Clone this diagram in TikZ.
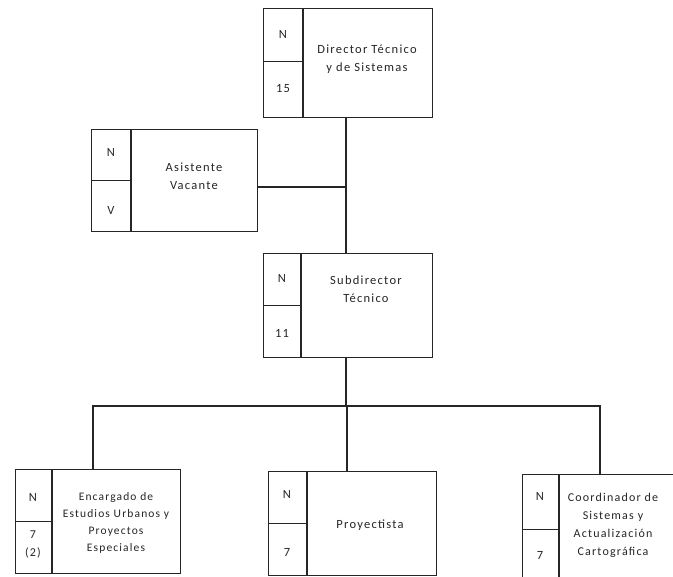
\documentclass[tikz,border=0pt]{standalone}
\usepackage{fontspec}
\setmainfont{Carlito}[LetterSpace=10]
\begin{document}
\begin{tikzpicture}[x=1pt,y=-1pt,
  box/.style={draw=black!85, line width=1.3pt, rectangle, inner sep=0pt, anchor=north west},
  ln/.style={draw=black!85, line width=1.3pt},
  conn/.style={draw=black!85, line width=1.3pt},
  lbl/.style={font=\fontsize{12.5}{18}\selectfont, text=black!85, inner sep=0pt, align=center}]
\clip (0,0) rectangle (673,577);
\fill[white] (0,0) rectangle (673,577);
% Director
\node[box, minimum width=169pt, minimum height=109pt] (dir) at (263,8) {};
\draw[ln] ([xshift=40pt]dir.north west) -- ([xshift=40pt]dir.south west);
\draw[ln] ([yshift=1.5pt]dir.west) -- ([xshift=40pt,yshift=1.5pt]dir.west);
\node[lbl] (dirN) at (283,34) {N};
\node[lbl] (dirG) at (283,89) {15};
\node[lbl] (dirT) at (367,59) {Director Técnico\\y de Sistemas};
% Asistente
\node[box, minimum width=166pt, minimum height=102pt] (asi) at (91,129) {};
\draw[ln] ([xshift=40pt]asi.north west) -- ([xshift=40pt]asi.south west);
\draw[ln] (asi.west) -- ([xshift=40pt]asi.west);
\node[lbl] (asiN) at (111,152) {N};
\node[lbl] (asiG) at (111,210) {V};
\node[lbl] (asiT) at (194,176) {Asistente\\Vacante};
% Subdirector
\node[box, minimum width=169pt, minimum height=104pt] (sub) at (263,253) {};
\draw[ln] ([xshift=38pt]sub.north west) -- ([xshift=38pt]sub.south west);
\draw[ln] (sub.west) -- ([xshift=38pt]sub.west);
\node[lbl] (subN) at (282,278) {N};
\node[lbl] (subG) at (282,333) {11};
\node[lbl] (subT) at (366,289) {Subdirector\\Técnico};
% Encargado
\node[box, minimum width=165pt, minimum height=104pt] (enc) at (15,469) {};
\draw[ln] ([xshift=37pt]enc.north west) -- ([xshift=37pt]enc.south west);
\draw[ln] (enc.west) -- ([xshift=37pt]enc.west);
\node[lbl] (encN) at (33,497) {N};
\node[lbl, font=\fontsize{12}{18}\selectfont] (encG) at (33,544) {7\\(2)};
\node[lbl, font=\fontsize{11.5}{17}\selectfont] (encT) at (116,523) {Encargado de\\Estudios Urbanos y\\Proyectos\\Especiales};
% Proyectista
\node[box, minimum width=168pt, minimum height=104pt] (pro) at (268,471) {};
\draw[ln] ([xshift=39pt]pro.north west) -- ([xshift=39pt]pro.south west);
\draw[ln] (pro.west) -- ([xshift=39pt]pro.west);
\node[lbl] (proN) at (287,494) {N};
\node[lbl] (proG) at (287,552) {7};
\node[lbl] (proT) at (370,525) {Proyectista};
% Coordinador
\node[box, minimum width=170pt, minimum height=106pt] (coo) at (522,474) {};
\draw[ln] ([xshift=37pt]coo.north west) -- ([xshift=37pt]coo.south west);
\draw[ln] ([yshift=-2pt]coo.west) -- ([xshift=37pt,yshift=-2pt]coo.west);
\node[lbl] (cooN) at (540,496) {N};
\node[lbl] (cooG) at (540,555) {7};
\node[lbl, font=\fontsize{12}{18}\selectfont] (cooT) at (613,525) {Coordinador de\\Sistemas y\\Actualización\\Cartográfica};
% connectors
\coordinate (trunk) at (346,187);
\coordinate (hub) at (346,406);
\coordinate (barL) at (93,406);
\coordinate (barM) at (347,406);
\coordinate (barR) at (600,406);
\draw[conn] (dir.south -| hub) -- (sub.north -| hub);
\draw[conn] (asi.east |- trunk) -- (trunk);
\draw[conn] (sub.south -| hub) -- (hub);
\draw[conn] (barL |- enc.north) -- (barL) -- (barR) -- (barR |- coo.north);
\draw[conn] (barM) -- (barM |- pro.north);
\end{tikzpicture}
\end{document}
